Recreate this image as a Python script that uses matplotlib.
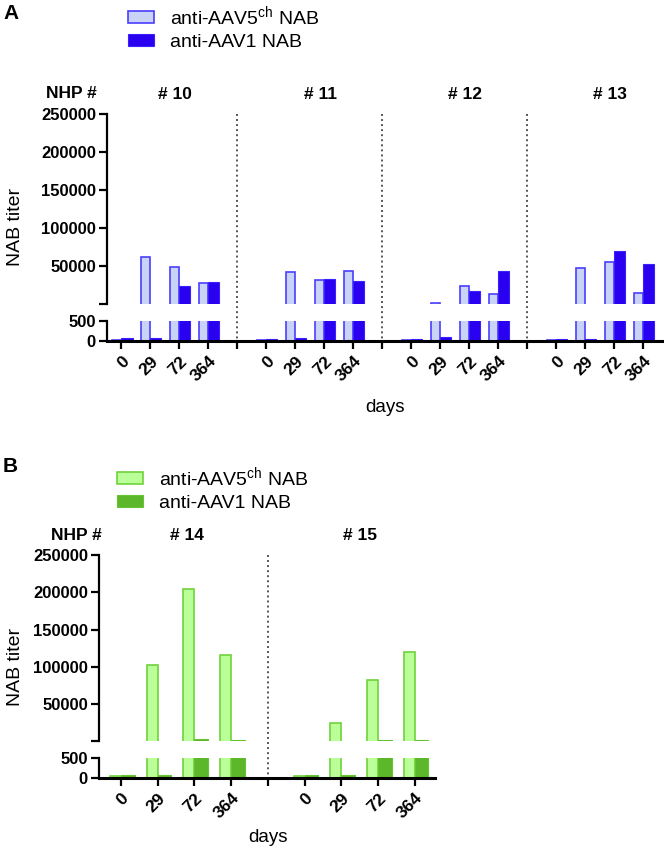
import matplotlib.pyplot as plt
import matplotlib.transforms as mtransforms
from matplotlib.patches import Patch
import numpy as np

plt.rcParams['font.family'] = ['Liberation Sans', 'DejaVu Sans']
plt.rcParams['mathtext.fontset'] = 'custom'
plt.rcParams['mathtext.rm'] = 'Liberation Sans'
plt.rcParams['mathtext.it'] = 'Liberation Sans:italic'

# data (NAB titer per day, per animal)
days = ['0', '29', '72', '364']

nhp_a = ['# 10', '# 11', '# 12', '# 13']
aav5_a = [[30, 62000, 49000, 28500],
          [30, 42500, 31600, 43900],
          [33, 2200, 23700, 13600],
          [25, 47400, 56100, 14900]]
aav1_a = [[70, 70, 24100, 29400],
          [60, 70, 32900, 31100],
          [58, 100, 17100, 43900],
          [58, 58, 70200, 52600]]

nhp_b = ['# 14', '# 15']
aav5_b = [[40, 102000, 204500, 116000],
          [40, 25100, 82900, 120000]]
aav1_b = [[70, 70, 2700, 2200],
          [70, 70, 1800, 1800]]

W, H = 664, 850
fig = plt.figure(figsize=(W / 100, H / 100), dpi=100)


def px_rect(left, right, top, bottom):
    return [left / W, 1 - bottom / H, (right - left) / W, (bottom - top) / H]


def panel(rect_up, rect_lo, xlim, nhp, aav5, aav1, c5, e5, c1, e1, w5, w1, lab_dx):
    ax_up = fig.add_axes(rect_up)
    ax_lo = fig.add_axes(rect_lo)
    ax_up.patch.set_visible(False)
    ax_lo.patch.set_visible(False)
    brk = 500
    base = -30000
    for g in range(len(nhp)):
        x = g * 5 + np.arange(len(days))
        v5 = np.array(aav5[g], dtype=float)
        v1 = np.array(aav1[g], dtype=float)
        m5 = v5 > brk
        m1 = v1 > brk
        ax_up.bar(x[m5] - w5, v5[m5] - base, bottom=base, width=w5, align='edge',
                  color=c5, edgecolor=e5, linewidth=1.2)
        ax_up.bar(x[m1], v1[m1] - base, bottom=base, width=w1, align='edge',
                  color=c1, edgecolor=e1, linewidth=0.8)
        ax_lo.bar(x - w5, v5, width=w5, align='edge', color=c5, edgecolor=e5, linewidth=1.2)
        ax_lo.bar(x, v1, width=w1, align='edge', color=c1, edgecolor=e1, linewidth=0.8)

    ax_up.set_ylim(brk, 250000)
    ax_lo.set_ylim(0, brk)
    for ax in (ax_up, ax_lo):
        ax.set_xlim(*xlim)
        ax.spines['top'].set_visible(False)
        ax.spines['right'].set_visible(False)
        ax.spines['left'].set_linewidth(1.6)
        ax.tick_params(axis='y', direction='out', length=6, width=1.6, pad=2)
    ax_up.spines['bottom'].set_visible(False)
    ax_up.set_xticks([])
    ax_up.set_yticks([brk, 50000, 100000, 150000, 200000, 250000])
    ax_up.set_yticklabels(['', '50000', '100000', '150000', '200000', '250000'],
                          fontsize=12, fontweight='bold')
    ax_lo.set_yticks([0, 500])
    ax_lo.set_yticklabels(['0', '500'], fontsize=12, fontweight='bold')
    ax_lo.spines['bottom'].set_linewidth(2.2)

    ticks, labels = [], []
    for g in range(len(nhp)):
        if g > 0:
            ticks.append(g * 5 - 1)
            labels.append('')
        for i, d in enumerate(days):
            ticks.append(g * 5 + i)
            labels.append(d)
    ax_lo.set_xticks(ticks)
    ax_lo.set_xticklabels(labels, rotation=45, ha='right', rotation_mode='anchor',
                          fontsize=12.5, fontweight='bold')
    ax_lo.tick_params(axis='x', direction='out', length=6, width=1.6, pad=3)

    # dotted separators between animals, running through the axis break
    y_bot = (rect_lo[1] - rect_up[1]) / rect_up[3]
    tr = mtransforms.blended_transform_factory(ax_up.transData, ax_up.transAxes)
    for g in range(1, len(nhp)):
        ax_up.plot([g * 5 - 1, g * 5 - 1], [1, y_bot], transform=tr, clip_on=False,
                   color='#555555', linestyle=(0, (1, 1.6)), linewidth=1.4, zorder=0)

    for g, name in enumerate(nhp):
        ax_up.text(g * 5 + 1.5 + lab_dx[g], 1.105, name, transform=tr, ha='center', va='center',
                   fontsize=12.5, fontweight='bold')
    return ax_up, ax_lo


lab5 = 'anti-AAV5$^{\\mathrm{ch}}$ NAB'
lab1 = 'anti-AAV1 NAB'

# panel A
panel(px_rect(107, 662, 114, 304), px_rect(107, 662, 321, 341), (-0.5, 18.65),
      nhp_a, aav5_a, aav1_a, '#c9d3f6', '#4a3dff', '#2a00f0', '#3a22ff',
      0.32, 0.38, [0.36, 0.36, 0.36, 0.36])
fig.text(3 / W, 1 - 4 / H, 'A', fontsize=15, fontweight='bold', ha='left', va='top')
fig.text(71 / W, 1 - 94 / H, 'NHP #', fontsize=12.5, fontweight='bold', ha='center', va='center')
fig.text(16 / W, 1 - 227 / H, 'NAB titer', fontsize=14, rotation=90, ha='center', va='center')
fig.text(385 / W, 1 - 408 / H, 'days', fontsize=13.5, ha='center', va='center')
fig.legend(handles=[Patch(facecolor='#c9d3f6', edgecolor='#4a3dff', linewidth=1.2),
                    Patch(facecolor='#2a00f0', edgecolor='#3a22ff', linewidth=0.8)],
           labels=[lab5, lab1], loc='upper left', bbox_to_anchor=(128 / W, 1 - 4 / H),
           frameon=False, fontsize=14, borderpad=0, borderaxespad=0,
           handlelength=1.34, handleheight=0.6, handletextpad=0.8, labelspacing=0.3)

# panel B
panel(px_rect(99, 435, 555, 741), px_rect(99, 435, 758, 778), (-0.6, 8.55),
      nhp_b, aav5_b, aav1_b, '#bbff99', '#70d23c', '#5cb82a', '#66c433',
      0.3, 0.37, [0.3, 0.0])
fig.text(3 / W, 1 - 457 / H, 'B', fontsize=15, fontweight='bold', ha='left', va='top')
fig.text(76 / W, 1 - 535 / H, 'NHP #', fontsize=12.5, fontweight='bold', ha='center', va='center')
fig.text(16 / W, 1 - 667 / H, 'NAB titer', fontsize=14, rotation=90, ha='center', va='center')
fig.text(268 / W, 1 - 838 / H, 'days', fontsize=13.5, ha='center', va='center')
fig.legend(handles=[Patch(facecolor='#bbff99', edgecolor='#70d23c', linewidth=1.2),
                    Patch(facecolor='#5cb82a', edgecolor='#66c433', linewidth=0.8)],
           labels=[lab5, lab1], loc='upper left', bbox_to_anchor=(117 / W, 1 - 465 / H),
           frameon=False, fontsize=14, borderpad=0, borderaxespad=0,
           handlelength=1.34, handleheight=0.6, handletextpad=0.8, labelspacing=0.3)

fig.savefig('out.png', dpi=100)
